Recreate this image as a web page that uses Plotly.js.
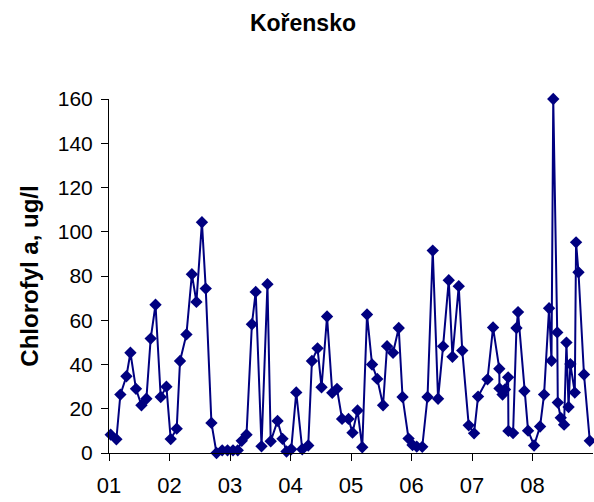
<!DOCTYPE html>
<html>
<head>
<meta charset="utf-8">
<script src="https://cdn.plot.ly/plotly-3.0.1.min.js"></script>
<style>html,body{margin:0;padding:0;background:#fff;}#chart{width:594px;height:502px;}</style>
</head>
<body>
<div id="chart"></div>
<script>
// Sampling time as decimal year
const sampleTime = [
  2001.028, 2001.122, 2001.188, 2001.288, 2001.354, 2001.446, 2001.536, 2001.618, 2001.689, 2001.769,
  2001.855, 2001.949, 2002.020, 2002.119, 2002.174, 2002.280, 2002.370, 2002.445, 2002.536, 2002.599,
  2002.693, 2002.777, 2002.871, 2002.959, 2003.050, 2003.128, 2003.194, 2003.273, 2003.362, 2003.425,
  2003.521, 2003.619, 2003.673, 2003.786, 2003.868, 2003.934, 2004.012, 2004.095, 2004.194, 2004.293,
  2004.354, 2004.447, 2004.513, 2004.604, 2004.690, 2004.769, 2004.852, 2004.959, 2005.025, 2005.108,
  2005.186, 2005.265, 2005.348, 2005.434, 2005.530, 2005.596, 2005.695, 2005.789, 2005.852, 2005.951,
  2006.017, 2006.087, 2006.178, 2006.265, 2006.351, 2006.439, 2006.522, 2006.616, 2006.677, 2006.781,
  2006.839, 2006.946, 2007.034, 2007.100, 2007.256, 2007.348, 2007.451, 2007.454, 2007.505, 2007.545,
  2007.597, 2007.602, 2007.679, 2007.735, 2007.761, 2007.866, 2007.927, 2008.026, 2008.125, 2008.191,
  2008.274, 2008.314, 2008.343, 2008.409, 2008.418, 2008.467, 2008.522, 2008.561, 2008.596, 2008.626,
  2008.699, 2008.720, 2008.760, 2008.851, 2008.947
];
// Chlorophyll a, ug/l
const chlorophyll = [
  8.3, 6.2, 26.4, 34.7, 45.3, 29.0, 21.6, 24.5, 51.7, 67.0,
  25.3, 30.0, 6.3, 11.0, 41.6, 53.6, 80.8, 68.3, 104.3, 74.3,
  13.6, 0.0, 1.2, 1.2, 1.2, 1.2, 5.5, 8.3, 58.2, 72.8,
  3.0, 76.3, 5.3, 14.5, 6.4, 0.7, 1.7, 27.4, 1.7, 3.4,
  41.6, 47.3, 29.7, 61.7, 27.2, 29.0, 15.4, 15.4, 9.2, 19.2,
  2.6, 62.6, 40.0, 33.5, 21.6, 48.3, 45.3, 56.5, 25.3, 6.5,
  3.6, 2.9, 2.8, 25.3, 91.5, 24.5, 48.2, 78.1, 43.5, 75.4,
  46.3, 12.5, 8.9, 25.5, 33.3, 56.7, 38.1, 29.2, 26.4, 28.7,
  34.2, 10.0, 9.0, 56.5, 63.7, 28.0, 10.1, 3.4, 12.0, 26.4,
  65.4, 41.7, 160.0, 54.5, 22.8, 15.9, 12.8, 49.9, 20.8, 40.2,
  27.3, 95.2, 81.7, 35.5, 5.5
];
const yearTicks = [2001, 2002, 2003, 2004, 2005, 2006, 2007, 2008];
const yearLabels = ['01', '02', '03', '04', '05', '06', '07', '08'];
const yTicks = [0, 20, 40, 60, 80, 100, 120, 140, 160];

const FONT = '"Liberation Sans", Arial, sans-serif';

const trace = {
  x: sampleTime,
  y: chlorophyll,
  type: 'scatter',
  mode: 'lines+markers',
  line: {color: '#000080', width: 2},
  marker: {symbol: 'diamond', size: 9.5, color: '#000080', line: {width: 0}},
  cliponaxis: false,
  hoverinfo: 'x+y'
};

const layout = {
  width: 594,
  height: 502,
  paper_bgcolor: '#ffffff',
  plot_bgcolor: '#ffffff',
  showlegend: false,
  font: {family: FONT, color: '#000000', size: 22},
  margin: {l: 109, r: 1, t: 99, b: 49, pad: 0},
  title: {
    text: '<b>Kořensko</b>',
    font: {family: FONT, size: 23, color: '#000000'},
    x: 0.51, xref: 'container', xanchor: 'center',
    y: 0.955, yref: 'container', yanchor: 'middle'
  },
  xaxis: {
    range: [2001, 2009],
    tickmode: 'array',
    tickvals: yearTicks,
    ticktext: yearLabels,
    ticks: 'outside', ticklen: 7, tickwidth: 1, tickcolor: '#000000',
    showline: true, linecolor: '#000000', linewidth: 1,
    showgrid: false, zeroline: false,
    ticklabelstandoff: 6,
    tickfont: {family: FONT, size: 22, color: '#000000'}
  },
  yaxis: {
    range: [0, 160],
    tickmode: 'array',
    tickvals: yTicks,
    ticks: 'outside', ticklen: 7, tickwidth: 1, tickcolor: '#000000',
    showline: true, linecolor: '#000000', linewidth: 1,
    showgrid: false, zeroline: false,
    ticklabelstandoff: 4,
    tickfont: {family: FONT, size: 21, color: '#000000'},
    title: {text: '<b>Chlorofyl a, ug/l</b>', font: {family: FONT, size: 24, color: '#000000'}, standoff: 12}
  }
};

Plotly.newPlot('chart', [trace], layout, {displayModeBar: false, staticPlot: true});
</script>
</body>
</html>
